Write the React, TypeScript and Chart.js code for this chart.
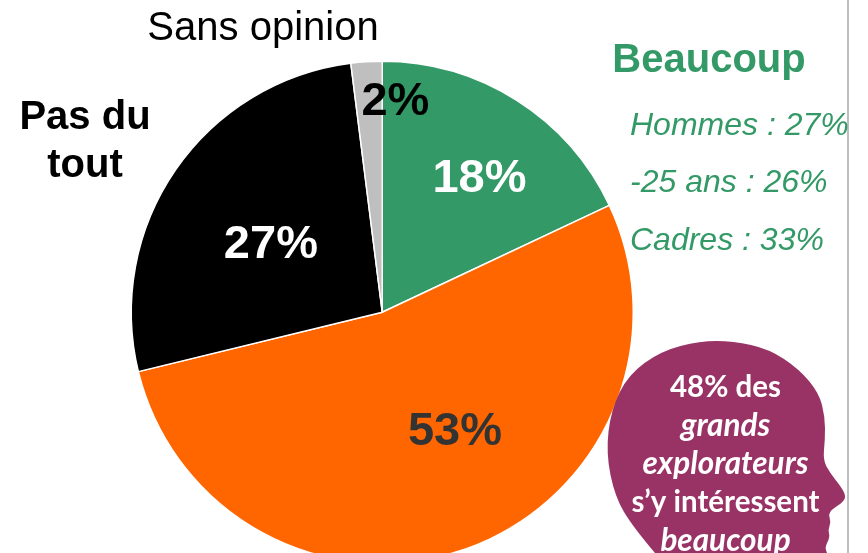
import React, { useEffect, useRef } from "react";
import { Chart, registerables } from "chart.js";

Chart.register(...registerables);

const categories = ["Beaucoup", "Assez", "Pas du tout", "Sans opinion"];
const values = [18, 53.2, 26.8, 2];
const colors = ["#339966", "#FF6600", "#000000", "#BFBFBF"];
const valueLabelColors = ["#FFFFFF", "#333333", "#FFFFFF", "#000000"];
const valueLabelOffsets = [
  [30, -27],
  [31, 1],
  [-8, 4],
  [21, -85],
];

const ARIAL = '"Liberation Sans", Arial, sans-serif';
const GREEN = "#339966";
const PLUM = "#993366";

const greenTitle = "Beaucoup";
const greenLines = ["Hommes : 27%", "-25 ans : 26%", "Cadres : 33%"];
const headLines: [string, boolean][] = [
  ["48% des", false],
  ["grands", true],
  ["explorateurs", true],
  ["s’y intéressent", false],
  ["beaucoup", true],
];

const headOutline = [
  [655, 553], [633, 527], [615, 497], [606, 453], [611, 410], [628, 375], [661, 351],
  [700, 341], [733, 341], [769, 349], [799, 369], [819, 393], [825, 417], [825, 440],
  [823, 460], [830, 473], [842, 488], [846, 497], [842, 503], [828, 512], [831, 522],
  [828, 530], [830, 537], [825, 547], [827, 553],
];

const annotations = {
  id: "annotations",
  afterDatasetsDraw(chart: any) {
    const { ctx } = chart;
    const arcs = chart.getDatasetMeta(0).data;
    ctx.save();

    // separator at the right of the slide
    ctx.fillStyle = "#BFBFBF";
    ctx.fillRect(847, 0, 2, 553);

    // head silhouette
    ctx.fillStyle = PLUM;
    ctx.beginPath();
    headOutline.forEach(([x, y], i) => {
      if (i === 0) ctx.moveTo(x, y);
      else {
        const [nx, ny] = headOutline[Math.min(i + 1, headOutline.length - 1)];
        ctx.quadraticCurveTo(x, y, (x + nx) / 2, (y + ny) / 2);
      }
    });
    ctx.lineTo(827, 553);
    ctx.closePath();
    ctx.fill();

    ctx.textBaseline = "middle";
    ctx.textAlign = "center";

    // value labels
    ctx.font = `bold 47px ${ARIAL}`;
    arcs.forEach((arc: any, i: number) => {
      const p = arc.tooltipPosition();
      ctx.fillStyle = valueLabelColors[i];
      ctx.fillText(`${Math.round(values[i])}%`, p.x + valueLabelOffsets[i][0], p.y + valueLabelOffsets[i][1]);
    });

    // category labels
    ctx.fillStyle = "#000000";
    ctx.font = `40px ${ARIAL}`;
    ctx.fillText(categories[3], 263, 29);
    ctx.font = `bold 40px ${ARIAL}`;
    ctx.fillText("Pas du", 85, 118);
    ctx.fillText("tout", 85, 166);

    ctx.fillStyle = GREEN;
    ctx.font = `bold 40px ${ARIAL}`;
    ctx.fillText(greenTitle, 709, 61);

    ctx.textAlign = "left";
    ctx.font = `italic 32px ${ARIAL}`;
    greenLines.forEach((line, i) => ctx.fillText(line, 630, 126 + i * 57.5));

    // head text
    ctx.textAlign = "center";
    ctx.fillStyle = "#FFFFFF";
    headLines.forEach(([line, italic], i) => {
      ctx.font = italic ? "italic bold 31.5px Lato, sans-serif" : "bold 29.5px Lato, sans-serif";
      ctx.fillText(line, 725.5, 387 + i * 38.5);
    });
    ctx.restore();
  },
};

export default function App() {
  const ref = useRef<HTMLCanvasElement>(null);
  useEffect(() => {
    const chart = new Chart(ref.current!, {
      type: "pie",
      data: {
        labels: categories,
        datasets: [
          {
            data: values,
            backgroundColor: colors,
            borderColor: "#FFFFFF",
            borderWidth: 1.5,
          },
        ],
      },
      options: {
        responsive: false,
        animation: false,
        layout: { padding: { left: 130.5, right: 234, top: 60.5, bottom: 0 } },
        plugins: { legend: { display: false }, tooltip: { enabled: false } },
      },
      plugins: [annotations],
    });
    return () => chart.destroy();
  }, []);
  return (
    <div style={{ position: "fixed", left: 0, top: 0, width: 868, height: 553, overflow: "hidden", background: "#fff" }}>
      <canvas ref={ref} width={868} height={564} style={{ display: "block" }} />
    </div>
  );
}
